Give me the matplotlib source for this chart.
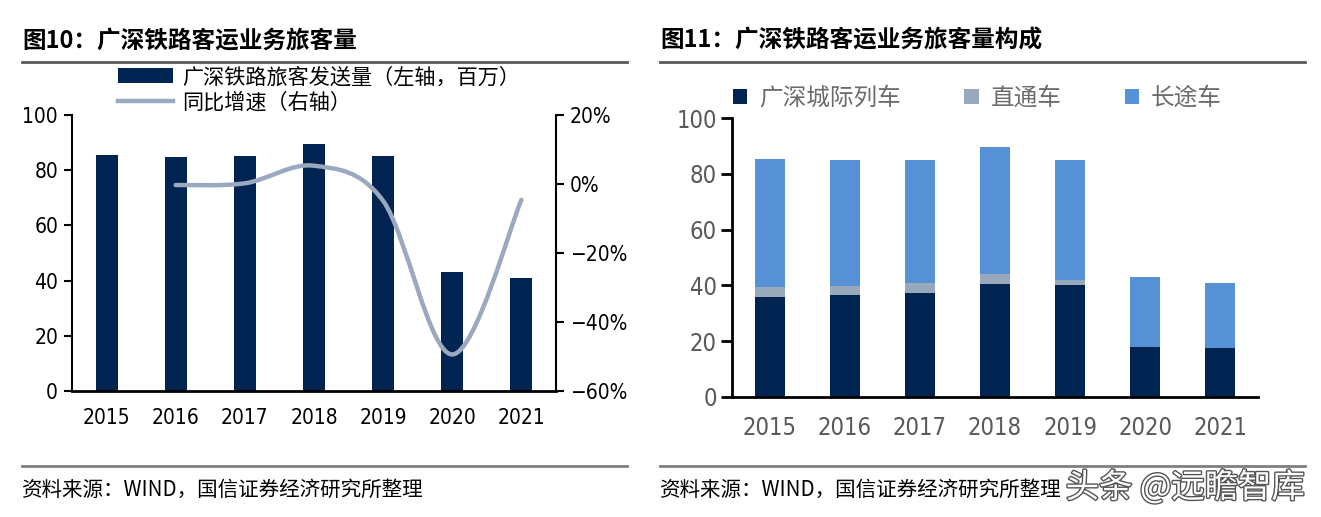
import matplotlib
matplotlib.use("Agg")
import matplotlib.pyplot as plt
from matplotlib.path import Path
from matplotlib.patches import PathPatch, Patch
from matplotlib.lines import Line2D
import matplotlib.patheffects as pe

plt.rcParams['font.family'] = ['DejaVu Sans', 'Noto Sans CJK SC']
plt.rcParams['font.stretch'] = 'condensed'

years = ["2015", "2016", "2017", "2018", "2019", "2020", "2021"]
total = [85.4, 84.9, 85.1, 89.5, 85.1, 43.1, 40.9]
growth = [None, -0.3, 0.2, 5.3, -4.9, -49.4, -4.6]
city = [35.9, 36.4, 37.1, 40.6, 40.3, 18.1, 17.4]
through = [3.6, 3.5, 3.6, 3.6, 1.8, 0.0, 0.0]
longd = [45.9, 45.0, 44.4, 45.3, 43.0, 25.0, 23.5]

NAVY = "#002452"
LINE = "#9aa8c0"
GREY = "#98a9bc"
BLUE = "#5690d5"
CJK = ['Noto Sans CJK SC', 'DejaVu Sans']

W, H = 1321, 517
fig = plt.figure(figsize=(W / 100, H / 100), dpi=100)


def px(x0, y0, x1, y1):
    # pixel box (top-left origin) -> figure fraction rect
    return [x0 / W, 1 - y1 / H, (x1 - x0) / W, (y1 - y0) / H]


def smooth_path(xs, ys):
    # Catmull-Rom through the points, drawn as cubic Bezier segments
    pts = list(zip(xs, ys))
    verts = [pts[0]]
    codes = [Path.MOVETO]
    for i in range(len(pts) - 1):
        p0 = pts[i - 1] if i > 0 else pts[i]
        p1, p2 = pts[i], pts[i + 1]
        p3 = pts[i + 2] if i + 2 < len(pts) else pts[i + 1]
        c1 = (p1[0] + (p2[0] - p0[0]) / 6, p1[1] + (p2[1] - p0[1]) / 6)
        c2 = (p2[0] - (p3[0] - p1[0]) / 6, p2[1] - (p3[1] - p1[1]) / 6)
        verts += [c1, c2, p2]
        codes += [Path.CURVE4] * 3
    return Path(verts, codes)


# ---------- left chart ----------
fig.text(22 / W, 1 - 40 / H, "图10：广深铁路客运业务旅客量", family=CJK, fontsize=17,
         weight='semibold', va='center', ha='left', color='black')
fig.add_artist(Line2D([22 / W, 627 / W], [1 - 62 / H] * 2, color="#595959", lw=2))
fig.add_artist(Line2D([22 / W, 627 / W], [1 - 466 / H] * 2, color="#7f7f7f", lw=2))
fig.text(22 / W, 1 - 490 / H, "资料来源：WIND，国信证券经济研究所整理", family=CJK,
         fontsize=14.8, va='center', ha='left')

ax1 = fig.add_axes(px(72, 115, 556, 391))
xs = list(range(len(years)))
ax1.bar(xs, total, width=0.32, color=NAVY, zorder=2)
ax1.set_xlim(-0.5, 6.5)
ax1.set_ylim(0, 100)
ax1.set_yticks([0, 20, 40, 60, 80, 100])
ax1.set_xticks(xs)
ax1.set_xticklabels(years)
ax1.tick_params(axis='x', length=0, pad=12, labelsize=15)
ax1.tick_params(axis='y', length=6, width=1.5, labelsize=15, pad=4)
for s in ['top', 'right']:
    ax1.spines[s].set_visible(False)
ax1.spines['left'].set_linewidth(1.5)
ax1.spines['bottom'].set_linewidth(2)

ax2 = ax1.twinx()
ax2.set_ylim(-60, 20)
ax2.set_yticks([-60, -40, -20, 0, 20])
ax2.set_yticklabels(["−60%", "−40%", "−20%", "0%", "20%"])
ax2.tick_params(axis='y', length=6, width=1.5, labelsize=15, pad=4)
for s in ['top', 'left', 'bottom']:
    ax2.spines[s].set_visible(False)
ax2.spines['right'].set_linewidth(1.5)
gx = [i for i, g in enumerate(growth) if g is not None]
gy = [g for g in growth if g is not None]
ax2.add_patch(PathPatch(smooth_path(gx, gy), fill=False, edgecolor=LINE, lw=3.2,
                        capstyle='round', zorder=3))

handles = [Patch(facecolor=NAVY, edgecolor='none'), Line2D([], [], color=LINE, lw=3.2)]
leg1 = fig.legend(handles, ["广深铁路旅客发送量（左轴，百万）", "同比增速（右轴）"],
                  loc='upper left', bbox_to_anchor=(114 / W, 1 - 62 / H), frameon=False,
                  prop={'family': CJK, 'size': 15.2, 'weight': 'light'},
                  handlelength=2.6, handleheight=0.7, handletextpad=0.45, labelspacing=0.15,
                  borderaxespad=0, borderpad=0.2)

# ---------- right chart ----------
fig.text(660 / W, 1 - 40 / H, "图11：广深铁路客运业务旅客量构成", family=CJK, fontsize=17,
         weight='semibold', va='center', ha='left', color='black')
fig.add_artist(Line2D([660 / W, 1305 / W], [1 - 62 / H] * 2, color="#595959", lw=2))
fig.add_artist(Line2D([660 / W, 1305 / W], [1 - 466 / H] * 2, color="#7f7f7f", lw=2))
fig.text(660 / W, 1 - 490 / H, "资料来源：WIND，国信证券经济研究所整理", family=CJK,
         fontsize=14.8, va='center', ha='left')
fig.text(1305 / W, 1 - 488 / H, "头条 @远瞻智库", family=CJK, fontsize=24, va='center',
         ha='right', color='white',
         path_effects=[pe.withStroke(linewidth=2, foreground='#555555')])

ax3 = fig.add_axes(px(732, 118, 1258, 397))
b1 = ax3.bar(xs, city, width=0.4, color=NAVY, zorder=2)
b2 = ax3.bar(xs, through, width=0.4, bottom=city, color=GREY, zorder=2)
base = [c + t for c, t in zip(city, through)]
b3 = ax3.bar(xs, longd, width=0.4, bottom=base, color=BLUE, zorder=2)
ax3.set_xlim(-0.5, 6.5)
ax3.set_ylim(0, 100)
ax3.set_yticks([0, 20, 40, 60, 80, 100])
ax3.set_xticks(xs)
ax3.set_xticklabels(years)
ax3.tick_params(axis='x', length=0, pad=14, labelsize=17, labelcolor="#595959")
ax3.tick_params(axis='y', length=8, width=2, labelsize=17, labelcolor="#595959", pad=3)
for s in ['top', 'right']:
    ax3.spines[s].set_visible(False)
ax3.spines['left'].set_linewidth(2)
ax3.spines['bottom'].set_linewidth(2)

leg3 = fig.legend([b1, b2, b3], ["广深城际列车", "直通车", "长途车"], ncol=3,
                  loc='center left', bbox_to_anchor=(733 / W, 1 - 98 / H), frameon=False,
                  prop={'family': CJK, 'size': 17, 'weight': 'light'},
                  labelcolor="#6b6b6b", handlelength=0.6, handleheight=0.6,
                  handletextpad=0.5, columnspacing=2.7, borderaxespad=0, borderpad=0)

fig.savefig("out.png", dpi=100)
